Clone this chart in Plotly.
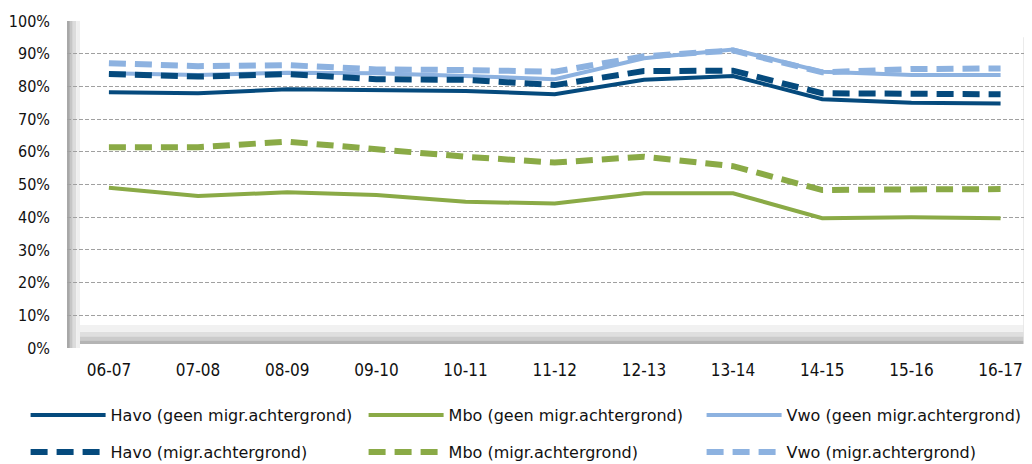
import plotly.graph_objects as go

categories = ["06-07", "07-08", "08-09", "09-10", "10-11", "11-12", "12-13", "13-14", "14-15", "15-16", "16-17"]

havo_geen = [78.2, 77.9, 79.1, 78.9, 78.6, 77.6, 82.0, 83.2, 76.1, 75.0, 74.8]
mbo_geen = [49.0, 46.5, 47.6, 46.8, 44.7, 44.2, 47.3, 47.3, 39.7, 40.0, 39.7]
vwo_geen = [84.0, 83.5, 84.2, 84.0, 83.2, 82.2, 88.6, 91.3, 84.5, 83.5, 83.5]
havo_migr = [83.8, 83.0, 83.8, 82.2, 82.0, 80.4, 84.7, 84.8, 77.9, 77.9, 77.6]
mbo_migr = [61.4, 61.4, 63.1, 60.8, 58.5, 56.7, 58.5, 55.6, 48.3, 48.5, 48.6]
vwo_migr = [87.1, 86.2, 86.5, 85.2, 85.0, 84.5, 89.2, 91.0, 84.3, 85.3, 85.5]

y_ticks = [0, 10, 20, 30, 40, 50, 60, 70, 80, 90, 100]

NAVY = "#054A7D"
GREEN = "#8AAA46"
LIGHT = "#8DB2E0"
TICKFONT = "Liberation Sans Narrow, DejaVu Sans Condensed, Liberation Sans, sans-serif"
LEGFONT = "DejaVu Sans"

x = list(range(len(categories)))

fig = go.Figure()
series = [
    ("Havo (geen migr.achtergrond)", havo_geen, NAVY, "solid", 4, "legend"),
    ("Mbo (geen migr.achtergrond)", mbo_geen, GREEN, "solid", 4, "legend"),
    ("Vwo (geen migr.achtergrond)", vwo_geen, LIGHT, "solid", 4, "legend"),
    ("Havo (migr.achtergrond)", havo_migr, NAVY, "17px,9px", 6, "legend2"),
    ("Mbo (migr.achtergrond)", mbo_migr, GREEN, "17px,9px", 6, "legend2"),
    ("Vwo (migr.achtergrond)", vwo_migr, LIGHT, "17px,9px", 6, "legend2"),
]
for name, vals, col, dash, w, lg in series:
    fig.add_trace(go.Scatter(
        x=x, y=vals, mode="lines", name=name,
        line=dict(color=col, width=w, dash=dash),
        legend=lg,
    ))

# plot-area bevel (3D frame look)
shapes = []
left_bands = [(0.0, 0.003, "#a8a8a8"), (0.003, 0.006, "#c6c6c6"), (0.006, 0.0095, "#dcdcdc"),
              (0.0095, 0.0135, "#efefef")]
for x0, x1, c in left_bands:
    shapes.append(dict(type="rect", xref="paper", yref="paper", x0=x0, x1=x1, y0=0.0, y1=1.0,
                       fillcolor=c, line=dict(width=0), layer="below"))
bottom_bands = [(0.012, 0.024, "#b4b4b4"), (0.024, 0.036, "#cbcbcb"), (0.036, 0.05, "#dfdfdf"),
                (0.05, 0.07, "#f1f1f1")]
for y0, y1, c in bottom_bands:
    shapes.append(dict(type="rect", xref="paper", yref="paper", x0=0.0135, x1=0.996, y0=y0, y1=y1,
                       fillcolor=c, line=dict(width=0), layer="below"))
right_bands = [(0.993, 0.996, "#e4e4e4"), (0.996, 1.0, "#c4c4c4")]
for x0, x1, c in right_bands:
    shapes.append(dict(type="rect", xref="paper", yref="paper", x0=x0, x1=x1, y0=0.012, y1=0.95,
                       fillcolor=c, line=dict(width=0), layer="below"))

legend_common = dict(
    orientation="h", x=-0.043, xanchor="left", yanchor="middle",
    entrywidth=248, entrywidthmode="pixels", itemwidth=75,
    font=dict(family=LEGFONT, size=16, color="#111111"),
    bgcolor="rgba(0,0,0,0)",
)

fig.update_layout(
    width=1024, height=456,
    margin=dict(l=59, r=2, t=13, b=116, autoexpand=False),
    paper_bgcolor="white", plot_bgcolor="white",
    font=dict(family=LEGFONT, size=14, color="#111111"),
    shapes=shapes,
    xaxis=dict(
        tickmode="array", tickvals=x, ticktext=categories,
        range=[-0.47, 10.33], showgrid=False, zeroline=False, showline=False,
        ticks="", tickfont=dict(family=TICKFONT, size=17, color="#111111"),
        ticklabelstandoff=10, automargin=False,
    ),
    yaxis=dict(
        range=[0, 100], tickmode="array", tickvals=y_ticks,
        ticktext=[f"{v}%" for v in y_ticks],
        showgrid=True, gridcolor="#a0a0a0", griddash="4px,2px", gridwidth=1,
        zeroline=False, showline=False, ticks="",
        tickfont=dict(family=TICKFONT, size=16, color="#111111"),
        ticklabelstandoff=16, automargin=False,
    ),
    legend=dict(legend_common, y=-0.205),
    legend2=dict(legend_common, y=-0.318),
    showlegend=True,
)

fig.write_html("out.html")
